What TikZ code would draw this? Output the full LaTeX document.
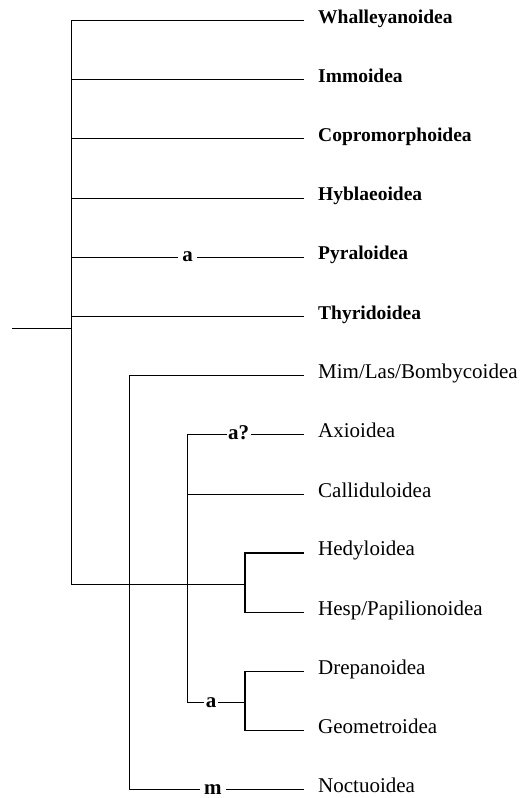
\documentclass[tikz,border=0pt]{standalone}
\usepackage{fontspec}
\setmainfont{Liberation Serif}
\begin{document}
\begin{tikzpicture}[x=1pt,y=-1pt,
  br/.style={line width=0.9pt, line join=miter},
  thk/.style={line width=1.3pt, line join=miter},
  boldlab/.style={anchor=base west, inner sep=0pt, font=\fontsize{19.5}{19.5}\selectfont\bfseries},
  reglab/.style={anchor=base west, inner sep=0pt, font=\fontsize{21}{21}\selectfont},
  mk/.style={fill=white, inner ysep=1.5pt, text height=9.5pt, text depth=0pt, font=\fontsize{21}{21}\selectfont\bfseries}]
\useasboundingbox (0,0) rectangle (532,798);
% branch points
\coordinate (root) at (12,328.3);
\coordinate (rj) at (71,328.3);
\coordinate (w1) at (71,20.3);
\coordinate (w2) at (71,79.3);
\coordinate (w3) at (71,138.3);
\coordinate (w4) at (71,198);
\coordinate (w5) at (71,257);
\coordinate (w6) at (71,316.7);
\coordinate (w7) at (71,584);
\coordinate (hj) at (245,584);
\coordinate (m1) at (129,375.7);
\coordinate (m2) at (129,789.3);
\coordinate (x1) at (187,434.3);
\coordinate (x2) at (187,494.3);
\coordinate (x3) at (187,702.7);
\coordinate (h1) at (245,553);
\coordinate (h2) at (245,612.3);
\coordinate (dj) at (245,702.7);
\coordinate (d1) at (245,671.7);
\coordinate (d2) at (245,730.7);
% line ends
\coordinate (e1) at (304,20.3);
\coordinate (e2) at (304,79.3);
\coordinate (e3) at (304,138.3);
\coordinate (e4) at (304,198);
\coordinate (e5) at (304,257);
\coordinate (e6) at (304,316.7);
\coordinate (e7) at (304,375.7);
\coordinate (e8) at (304,434.3);
\coordinate (e9) at (304,494.3);
\coordinate (e10) at (304,553);
\coordinate (e11) at (304,612.3);
\coordinate (e12) at (304,671.7);
\coordinate (e13) at (304,730.7);
\coordinate (e14) at (304,789.3);
% labels
\node[boldlab] (t1) at (318,23) {Whalleyanoidea};
\node[boldlab] (t2) at (318,82) {Immoidea};
\node[boldlab] (t3) at (318,141) {Copromorphoidea};
\node[boldlab] (t4) at (318,200.7) {Hyblaeoidea};
\node[boldlab] (t5) at (318,259.7) {Pyraloidea};
\node[boldlab] (t6) at (318,319.4) {Thyridoidea};
\node[reglab] (t7) at (318,378.4) {Mim/Las/Bombycoidea};
\node[reglab] (t8) at (318,437) {Axioidea};
\node[reglab] (t9) at (318,497) {Calliduloidea};
\node[reglab] (t10) at (318,555.7) {Hedyloidea};
\node[reglab] (t11) at (318,615) {Hesp/Papilionoidea};
\node[reglab] (t12) at (318,674.4) {Drepanoidea};
\node[reglab] (t13) at (318,733.4) {Geometroidea};
\node[reglab] (t14) at (318,792) {Noctuoidea};
% tree
\draw[br] (root) -- (rj);
\draw[br] (e1) -- (w1) -- (w7) -- (hj);
\draw[br] (w2) -- (e2);
\draw[br] (w3) -- (e3);
\draw[br] (w4) -- (e4);
\draw[br] (w5) -- (e5);
\draw[br] (w6) -- (e6);
\draw[br] (e7) -- (m1) -- (m2) -- (e14);
\draw[br] (e8) -- (x1) -- (x3) -- (dj);
\draw[br] (x2) -- (e9);
\draw[thk] (e10) -- (h1) -- (h2) -- (e11);
\draw[thk] (e12) -- (d1) -- (d2) -- (e13);
% marks
\node[mk, inner xsep=4.5pt] (a1) at (187.5,257) {a};
\node[mk, inner xsep=1.5pt] (a2) at (238.7,434.3) {a?};
\node[mk, inner xsep=2pt] (a3) at (211.2,702.7) {a};
\node[mk, inner xsep=4.5pt] (a4) at (212.8,789.3) {m};
\end{tikzpicture}
\end{document}
